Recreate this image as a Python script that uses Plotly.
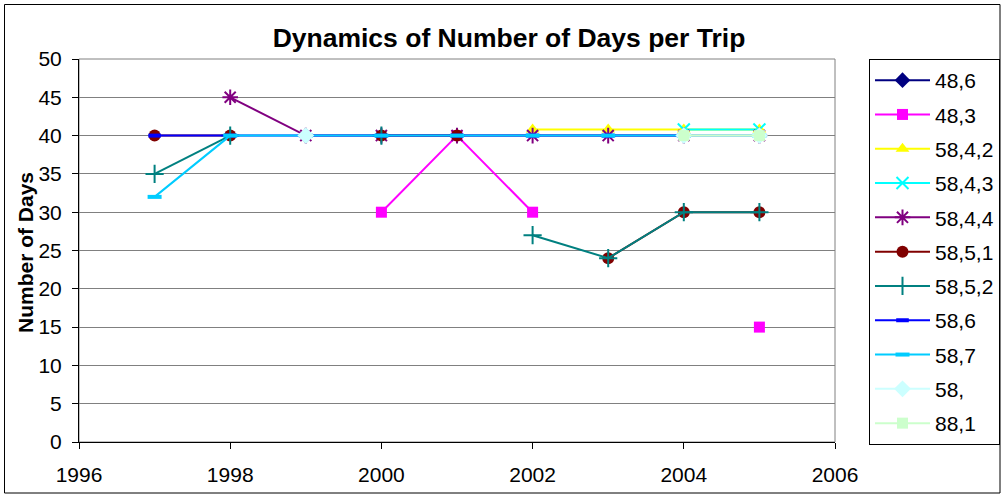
import plotly.graph_objects as go

years = [1997, 1998, 1999, 2000, 2001, 2002, 2003, 2004, 2005]
s48_6 = [None, None, 40, None, None, None, None, None, None]
s48_3 = [None, None, None, 30, 40, 30, None, None, 15]
s58_4_2 = [None, None, None, None, None, 40.8, 40.8, 40.8, 40.8]
s58_4_3 = [None, None, None, None, None, None, None, 40.8, 40.8]
s58_4_4 = [None, 45, 40, 40, 40, 40, 40, 40, 40]
s58_5_1 = [40, 40, None, 40, 40, None, 24, 30, 30]
s58_5_2 = [35, 40, None, 40, None, 27, 24, 30, 30]
s58_6 = [40, 40, 40, 40, 40, 40, 40, 40, 40]
s58_7 = [32, 40, 40, 40, 40, 40, 40, 40, 40]
s58_ = [None, None, 40, None, None, None, None, 40, 40]
s88_1 = [None, None, None, None, None, None, None, 40, 40]

names = ["48,6", "48,3", "58,4,2", "58,4,3", "58,4,4", "58,5,1", "58,5,2", "58,6", "58,7", "58,", "88,1"]
series = [s48_6, s48_3, s58_4_2, s58_4_3, s58_4_4, s58_5_1, s58_5_2, s58_6, s58_7, s58_, s88_1]
colors = ["#000080", "#FF00FF", "#FFFF00", "#00FFFF", "#800080", "#800000",
          "#008080", "#0000FF", "#00CCFF", "#CCFFFF", "#CCFFCC"]
symbols = ["diamond", "square", "triangle-up", "x-thin-open", "asterisk-open", "circle",
           "cross-thin-open", "line-ew-open", "line-ew-open", "diamond", "square"]
sizes = [12, 11, 12, 12, 13, 12, 13, 9, 10, 13, 11]

fig = go.Figure()
for i, (nm, ys) in enumerate(zip(names, series)):
    sym = symbols[i]
    open_sym = sym.endswith("-open")
    marker = dict(symbol=sym, size=sizes[i], color=colors[i])
    if open_sym:
        lw = 4 if sym.startswith("line") else 2
        marker["line"] = dict(color=colors[i], width=lw)
    else:
        marker["line"] = dict(width=0)
    fig.add_trace(go.Scatter(
        x=years, y=ys, name=nm, mode="lines+markers",
        line=dict(color=colors[i], width=2),
        marker=marker, connectgaps=False, legendgroup=nm,
    ))

L, R, T, B = 79, 166, 59, 53
W, H = 1001, 495
pw, ph = W - L - R, H - T - B

def px(p):
    return (p - L) / pw

def py(p):
    return (H - B - p) / ph

fig.update_layout(
    width=W, height=H,
    margin=dict(l=L, r=R, t=T, b=B, autoexpand=False),
    paper_bgcolor="white", plot_bgcolor="white",
    font=dict(family="Arial, Liberation Sans, sans-serif", size=21, color="black"),
    title=dict(text="<b>Dynamics of Number of Days per Trip</b>", xref="container",
               x=509 / W, xanchor="center",
               y=1 - 38 / H, yanchor="middle", font=dict(size=26.5)),
    showlegend=True,
    legend=dict(x=px(869), xanchor="left", y=1, yanchor="top",
                bordercolor="black", borderwidth=1, bgcolor="white",
                tracegroupgap=4, itemwidth=55, maxheight=440,
                font=dict(size=21)),
    xaxis=dict(range=[1996, 2006], dtick=2, tick0=1996, showgrid=False,
               showline=True, linecolor="black", linewidth=1,
               ticks="outside", ticklen=6, tickcolor="black", zeroline=False,
               ticklabelstandoff=8),
    yaxis=dict(range=[0, 50], dtick=5, showgrid=True, gridcolor="#808080", gridwidth=1,
               showline=True, linecolor="black", linewidth=1,
               ticks="outside", ticklen=6, tickcolor="black", zeroline=False,
               ticklabelstandoff=6),
    annotations=[
        dict(text="<b>Number of Days</b>", xref="paper", yref="paper",
             x=px(25), y=py(253), xanchor="center", yanchor="middle",
             textangle=-90, showarrow=False, font=dict(size=21)),
    ],
    shapes=[
        dict(type="rect", xref="paper", yref="paper", x0=0, x1=1, y0=0, y1=1,
             line=dict(color="#808080", width=1), layer="below"),
        dict(type="rect", xref="paper", yref="paper", x0=px(4.5), x1=px(1000), y0=py(4.5), y1=py(493),
             line=dict(color="black", width=1), layer="below"),
    ],
)

fig.write_html("out.html", post_script="document.body.style.margin='0px';",
               config={"displayModeBar": False})
